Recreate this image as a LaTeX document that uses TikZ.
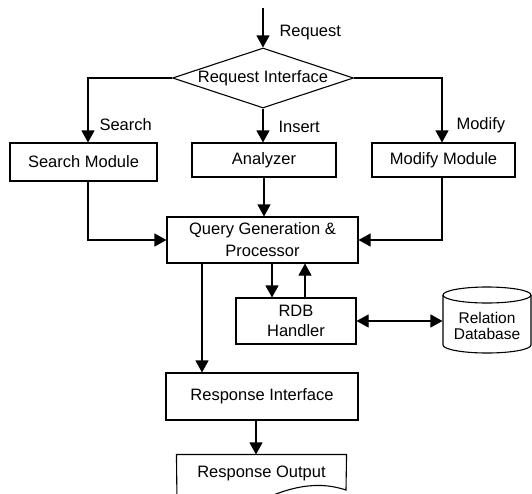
\documentclass[tikz,border=0pt]{standalone}
\usepackage{fontspec}
\setmainfont{Liberation Sans}
\usetikzlibrary{shapes.geometric,arrows.meta}
\begin{document}
\begin{tikzpicture}[x=1pt,y=-1pt, line width=1.1pt,
  every node/.style={font=\fontsize{16.5}{22}\selectfont},
  box/.style={draw, rectangle, inner sep=0pt, align=center},
  arr/.style={-{Triangle[length=12pt,width=13pt]}},
  darr/.style={{Triangle[length=12pt,width=13pt]}-{Triangle[length=12pt,width=13pt]}},
  lbl/.style={inner sep=0pt, anchor=west}]
\useasboundingbox (0,0) rectangle (532,493);
% nodes
\coordinate (top) at (263,8);
\node[draw, diamond, aspect=3, minimum width=181pt, minimum height=60pt, inner sep=0pt] (dm) at (263,78) {Request Interface};
\node[box, minimum width=147pt, minimum height=38pt] (sm) at (83.5,162) {Search Module};
\node[box, minimum width=144pt, minimum height=34pt] (an) at (264,160) {Analyzer};
\node[box, minimum width=143pt, minimum height=34pt] (mm) at (443.5,160) {Modify Module};
\node[box, minimum width=191pt, minimum height=46pt] (qg) at (262.5,240) {Query Generation \&\\Processor};
\node[box, minimum width=120pt, minimum height=46pt, font=\fontsize{16.5}{20}\selectfont] (rdb) at (296,321) {RDB\\Handler};
\node[inner sep=0pt, minimum width=88pt, minimum height=50pt, align=center, font=\fontsize{15.5}{16}\selectfont] (db) at (487,326) {Relation\\Database};
\node[box, minimum width=192pt, minimum height=47pt] (ri) at (262,396.5) {Response Interface};
\node[inner sep=0pt, minimum width=169pt, minimum height=36pt] (ro) at (261.5,473) {Response Output};
% cylinder outline
\draw (443,295) -- (443,345) arc[start angle=180, end angle=360, x radius=44pt, y radius=8pt] -- (531,295);
\draw (487,295) ellipse [x radius=44pt, y radius=8pt];
% document outline
\draw (ro.north west) -- (ro.north east) -- (346,490)
  .. controls (322,482) and (296,484) .. (262,500)
  .. controls (232,514) and (200,508) .. (177,502) -- cycle;
% labels
\node[lbl] at (279,33) {Request};
\node[lbl] at (99,125) {Search};
\node[lbl] at (278,127) {Insert};
\node[lbl] at (456,125) {Modify};
% helper coordinates
\coordinate (smn) at ([xshift=4.5pt]sm.north);
\coordinate (sms) at ([xshift=4.5pt]sm.south);
\coordinate (mmn) at ([xshift=-1.5pt]mm.north);
\coordinate (mms) at ([xshift=-1.5pt]mm.south);
\coordinate (rdbA) at ([xshift=-24pt]rdb.north);
\coordinate (rdbB) at ([xshift=9pt]rdb.north);
\coordinate (qgL) at ([xshift=-60.5pt]qg.south);
\coordinate (riA) at ([xshift=-6pt]ri.south);
% connectors
\draw[arr] (top) -- (dm.north);
\draw[arr] (dm.west) -| (smn);
\draw[arr] (dm.south) -- (dm.south |- an.north);
\draw[arr] (dm.east) -| (mmn);
\draw[arr] (sms) |- (qg.west);
\draw[arr] (an.south) -- (an.south |- qg.north);
\draw[arr] (mms) |- (qg.east);
\draw[arr] (rdbA |- qg.south) -- (rdbA);
\draw[arr] (rdbB) -- (rdbB |- qg.south);
\draw[darr] (rdb.east) -- (rdb.east -| db.west);
\draw[arr] (qgL) -- (qgL |- ri.north);
\draw[arr] (riA) -- (riA |- ro.north);
\end{tikzpicture}
\end{document}
